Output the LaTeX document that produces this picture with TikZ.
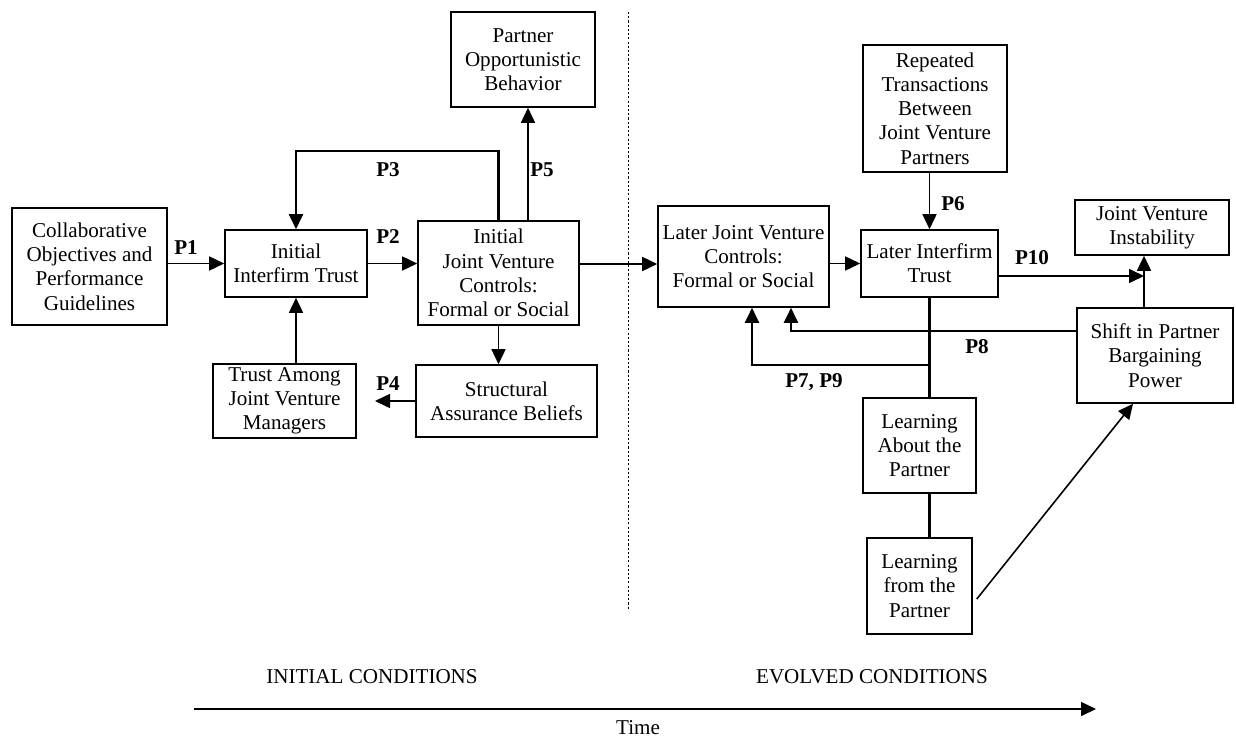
\documentclass[tikz,border=0pt]{standalone}
\usepackage{fontspec}
\setmainfont{Liberation Serif}
\usetikzlibrary{arrows.meta}

\tikzset{
	box/.style={draw, line width=0.9pt, align=center, inner sep=1pt},
	lab/.style={font=\fontsize{12}{14}\selectfont\bfseries},
	arr/.style={line width=0.9pt, -{Triangle[length=0.30cm,width=0.28cm]}},
	heavy/.style={line width=1.2pt},
}

\begin{document}
\begin{tikzpicture}[font=\fontsize{12}{13.8}\selectfont]
	\useasboundingbox (0,0) rectangle (24.72,-14.78);

	% initial conditions
	\node[box, minimum width=3.10cm, minimum height=2.34cm] (coll) at (1.79,-5.33) {Collaborative\\Objectives and\\Performance\\Guidelines};
	\node[box, minimum width=2.84cm, minimum height=1.34cm] (itrust) at (5.92,-5.27) {Initial\\Interfirm Trust};
	\node[box, minimum width=2.86cm, minimum height=1.48cm, below of=itrust, node distance=2.75cm, xshift=-0.23cm] (tamong) {Trust Among\\Joint Venture\\Managers};
	\node[box, minimum width=3.22cm, minimum height=2.08cm] (ijvc) at (9.97,-5.46) {Initial\\Joint Venture\\Controls:\\Formal or Social};
	\node[box, minimum width=2.88cm, minimum height=1.90cm] (pob) at (10.46,-1.19) {Partner\\Opportunistic\\Behavior};
	\node[box, minimum width=3.62cm, minimum height=1.44cm, below of=ijvc, node distance=2.56cm, xshift=0.16cm] (sab) {Structural\\Assurance Beliefs};

	% evolved conditions
	\node[box, minimum width=3.42cm, minimum height=2.02cm] (ljvc) at (14.87,-5.13) {Later Joint Venture\\Controls:\\Formal or Social};
	\node[box, minimum width=2.74cm, minimum height=1.34cm] (ltrust) at (18.59,-5.27) {Later Interfirm\\Trust};
	\node[box, minimum width=2.88cm, minimum height=2.54cm, above of=ltrust, node distance=3.10cm, xshift=0.11cm] (rep) {Repeated\\Transactions\\Between\\Joint Venture\\Partners};
	\node[box, minimum width=3.08cm, minimum height=1.10cm] (jvi) at (23.04,-4.55) {Joint Venture\\Instability};
	\node[box, minimum width=3.12cm, minimum height=1.90cm] (shift) at (23.10,-7.11) {Shift in Partner\\Bargaining\\Power};
	\node[box, minimum width=2.26cm, minimum height=1.90cm] (labout) at (18.39,-8.91) {Learning\\About the\\Partner};
	\node[box, minimum width=2.10cm, minimum height=1.92cm, below of=labout, node distance=2.81cm] (lfrom) {Learning\\from the\\Partner};

	\coordinate (p3c) at (5.86,-3.02);
	\coordinate (p5x) at (10.56,-3.0);
	\coordinate (p4end) at (7.50,-7.96);
	\coordinate (midr) at (11.6,-5.28);
	\coordinate (p10end) at (22.88,-5.52);
	\coordinate (p8c) at (15.82,-6.62);
	\coordinate (p7c) at (15.04,-7.30);

	\draw[arr] (coll.east |- itrust) -- (itrust);
	\draw[arr] (itrust) -- (itrust -| ijvc.west);
	\draw[arr, heavy] (ijvc.north) -- (ijvc.north |- p3c) -| (itrust.north);
	\draw[arr] (ijvc.north -| p5x) -- (pob.south -| p5x);
	\draw[arr] (ijvc.south) -- (ijvc.south |- sab.north);
	\draw[arr] (sab.west) -- (sab.west -| p4end);
	\draw[arr] (tamong.north -| itrust.south) -- (itrust.south);

	\draw[arr] (ijvc.east |- midr) -- (ljvc.west |- midr);
	\draw[arr] (ljvc.east |- ltrust) -- (ltrust);
	\draw[arr] (rep.south -| ltrust) -- (ltrust.north);
	\draw[heavy] (ltrust.south) -- (ltrust.south |- labout.north);
	\draw[heavy] (labout.south -| ltrust) -- (lfrom.north -| ltrust);
	\draw[arr] (ltrust.east |- p10end) -- (p10end);
	\draw[arr] (shift.north -| p10end) -- (jvi.south -| p10end);
	\draw[arr, heavy] (shift.west |- p8c) -| (p8c |- ljvc.south);
	\draw[arr, heavy] (ltrust.south |- p7c) -| (p7c |- ljvc.south);
	\draw[arr] ([xshift=0.08cm, yshift=-0.26cm]lfrom.east) -- ([xshift=-0.44cm]shift.south);

	% labels
	\node[lab] (lp1) at (3.72,-4.96) {P1};
	\node[lab] (lp2) at (7.76,-4.74) {P2};
	\node[lab] (lp3) at (7.76,-3.40) {P3};
	\node[lab] (lp4) at (7.76,-7.68) {P4};
	\node[lab] (lp5) at (10.84,-3.40) {P5};
	\node[lab] (lp6) at (19.06,-4.08) {P6};
	\node[lab] (lp79) at (16.28,-7.64) {P7, P9};
	\node[lab] (lp8) at (19.54,-6.94) {P8};
	\node[lab] (lp10) at (20.64,-5.16) {P10};

	% time line
	\draw[dash pattern=on 1.2pt off 1.2pt, line width=0.5pt] (12.56,-0.24) -- (12.56,-12.2);
	\coordinate (t0) at (3.88,-14.18);
	\coordinate (t1) at (21.92,-14.18);
	\draw[arr] (t0) -- (t1);
	\node[inner sep=0pt] (time) at (12.76,-14.56) {Time};
	\node (initc) at (7.44,-13.54) {INITIAL CONDITIONS};
	\node (evolc) at (17.44,-13.54) {EVOLVED CONDITIONS};
\end{tikzpicture}
\end{document}
